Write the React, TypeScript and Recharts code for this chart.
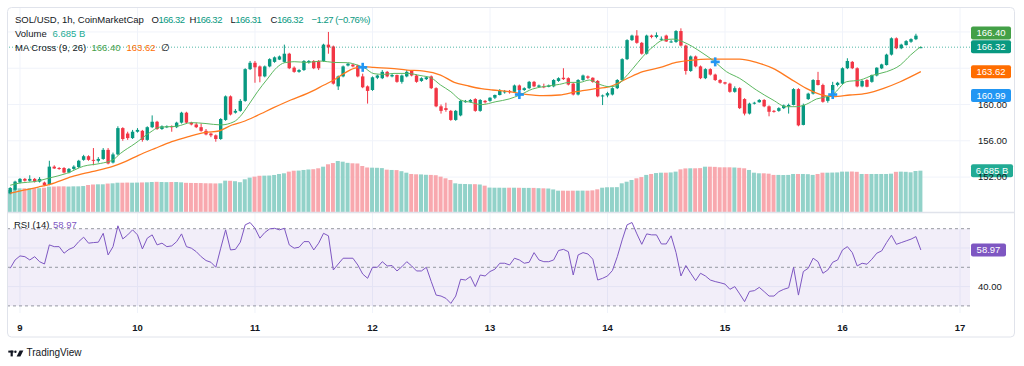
import React from 'react';
import {
  ComposedChart,
  Bar,
  Line,
  Scatter,
  XAxis,
  YAxis,
  CartesianGrid,
  ReferenceLine,
  ReferenceArea,
} from 'recharts';

// hours counted from the 9th, 00:00
const startHour = -2;
const dayTicks = [0, 24, 48, 72, 96, 120, 144, 168, 192];
const dayLabels = ['9', '10', '11', '12', '13', '14', '15', '16', '17'];
const priceTicks = [152, 156, 160];
const priceGrid = [152, 156, 160, 164, 168];
const rsiTicks = [40];
const rsiGrid = [40, 60];

// [open, high, low, close], one per hour from startHour
const ohlc: [number, number, number, number][] = [
  [150.2, 150.9, 150.1, 150.8], [150.6, 151.6, 150.5, 151.5],
  [151.4, 151.9, 151.3, 151.8], [151.8, 151.9, 151.5, 151.6], [151.6, 152.2, 151.5, 151.8], [151.8, 151.9, 151.4, 151.5], [151.5, 152.0, 151.4, 151.8],
  [151.4, 151.5, 151.0, 151.1], [151.2, 153.8, 151.1, 153.15], [153.15, 153.3, 152.9, 152.95], [153.0, 153.1, 152.8, 152.9], [153.0, 153.1, 152.4, 152.5],
  // 10
  [152.5, 153.0, 152.4, 152.9], [152.9, 153.3, 152.8, 153.15], [153.1, 153.9, 153.0, 153.8], [153.9, 154.45, 153.8, 154.3], [154.3, 154.4, 153.8, 153.9],
  [153.9, 155.2, 153.3, 153.8], [153.8, 154.2, 153.6, 154.0], [154.0, 155.2, 153.9, 155.0], [155.0, 155.2, 153.4, 153.5], [153.6, 154.7, 153.5, 154.5],
  // 20
  [154.5, 157.6, 154.4, 157.4], [157.4, 157.5, 156.0, 156.2], [156.8, 157.0, 156.1, 156.3], [156.3, 157.2, 156.2, 157.0], [157.0, 157.4, 156.9, 157.2],
  [157.1, 157.2, 155.9, 156.1], [156.1, 157.6, 156.0, 157.5], [157.5, 158.8, 157.4, 158.1], [158.1, 158.2, 157.2, 157.3], [157.3, 157.7, 157.2, 157.6],
  // 30
  [157.5, 157.7, 157.4, 157.6], [157.6, 157.7, 157.0, 157.5], [157.5, 158.1, 157.4, 158.0], [158.0, 159.2, 157.9, 159.1], [159.1, 159.2, 157.9, 158.0],
  [158.0, 158.1, 157.7, 157.8], [157.8, 158.0, 157.4, 157.5], [157.5, 157.9, 157.0, 157.1], [157.1, 157.3, 156.6, 156.7], [156.8, 156.9, 156.4, 156.6],
  // 40
  [156.6, 156.7, 155.9, 156.2], [156.2, 158.5, 156.1, 158.4], [158.3, 161.0, 158.2, 160.9], [160.9, 161.0, 158.8, 158.9], [159.1, 159.5, 159.0, 159.3],
  [159.3, 160.6, 159.2, 160.4], [160.4, 164.0, 160.3, 163.9], [163.9, 164.8, 163.8, 164.6], [164.6, 164.8, 162.4, 164.1], [164.2, 164.3, 162.45, 163.1],
  // 50
  [163.1, 164.3, 163.0, 164.2], [164.2, 165.1, 164.1, 165.0], [164.7, 165.3, 164.6, 165.2], [164.95, 165.4, 164.9, 165.3], [164.7, 166.6, 164.6, 165.6],
  [165.6, 165.7, 163.9, 164.0], [164.06, 164.2, 163.5, 163.6], [163.6, 163.9, 163.5, 163.8], [163.8, 164.9, 163.7, 164.8], [164.65, 164.9, 164.5, 164.8],
  // 60
  [164.8, 164.9, 163.9, 164.0], [164.8, 164.9, 163.8, 164.0], [164.8, 166.7, 164.7, 166.6], [166.6, 168.0, 165.6, 166.3], [166.4, 166.5, 162.2, 162.3],
  [162.0, 163.2, 161.6, 163.1], [163.1, 164.3, 163.0, 164.2], [164.3, 164.6, 164.2, 164.5], [164.4, 164.5, 164.1, 164.2], [164.3, 164.4, 163.0, 163.1],
  // 70
  [163.1, 163.4, 161.8, 161.9], [162.0, 162.1, 160.1, 161.5], [161.6, 163.1, 161.5, 163.0], [162.95, 163.3, 162.8, 163.2], [162.9, 163.8, 162.8, 163.6],
  [163.6, 163.7, 163.0, 163.1], [163.1, 163.4, 163.0, 163.25], [163.25, 163.3, 162.4, 162.5], [162.5, 163.3, 162.3, 163.2], [163.1, 163.8, 163.0, 163.6],
  // 80
  [163.7, 163.8, 163.1, 163.2], [163.2, 163.3, 162.4, 162.5], [162.6, 163.0, 162.5, 162.9], [162.8, 163.1, 162.7, 163.0], [163.1, 163.2, 161.7, 161.8],
  [161.8, 161.9, 159.7, 159.8], [159.8, 160.0, 159.0, 159.3], [159.6, 160.2, 159.2, 159.4], [159.3, 159.4, 158.2, 158.3], [158.3, 159.4, 158.2, 159.3],
  // 90
  [158.8, 160.5, 158.7, 160.4], [160.25, 160.5, 160.2, 160.4], [160.3, 160.6, 160.2, 160.5], [160.6, 160.7, 159.2, 159.3], [159.3, 160.6, 159.2, 160.5],
  [160.4, 160.5, 160.1, 160.25], [160.4, 160.8, 160.3, 160.75], [160.75, 161.1, 160.6, 161.05], [161.05, 161.7, 161.0, 161.5], [161.4, 161.6, 161.2, 161.45],
  // 100
  [161.5, 161.6, 161.2, 161.35], [161.4, 162.2, 161.3, 162.1], [162.1, 162.2, 161.5, 161.6], [161.6, 161.9, 161.5, 161.8], [161.8, 162.6, 161.7, 162.5],
  [162.5, 162.6, 161.9, 162.0], [161.95, 162.2, 161.9, 162.1], [162.0, 162.3, 161.8, 161.95], [161.95, 162.2, 161.9, 162.1], [162.0, 162.8, 161.9, 162.7],
  // 110
  [162.6, 163.0, 162.5, 162.9], [162.95, 164.0, 162.7, 162.8], [162.9, 163.0, 162.1, 162.2], [162.3, 162.4, 161.0, 161.1], [161.1, 162.8, 161.0, 162.7],
  [162.7, 163.3, 162.6, 163.2], [163.1, 163.2, 162.8, 162.95], [162.95, 163.0, 162.4, 162.5], [162.6, 162.7, 160.8, 160.9], [160.9, 161.1, 159.94, 161.0],
  // 120
  [161.0, 161.4, 160.8, 161.25], [161.1, 161.9, 161.0, 161.8], [161.8, 162.8, 161.7, 162.7], [162.7, 165.1, 162.6, 165.0], [165.0, 167.2, 164.9, 167.1],
  [167.1, 167.7, 167.0, 167.6], [167.6, 168.2, 166.7, 166.8], [166.8, 166.9, 165.5, 165.6], [165.6, 167.7, 165.5, 167.6], [167.6, 167.7, 167.3, 167.45],
  // 130
  [167.45, 167.95, 167.3, 167.65], [167.2, 167.5, 167.0, 167.25], [167.6, 167.7, 166.9, 166.95], [166.9, 167.1, 166.8, 166.95], [166.9, 168.2, 166.8, 168.1],
  [168.1, 168.4, 166.4, 166.5], [166.5, 166.6, 163.3, 163.7], [163.7, 165.4, 163.6, 165.3], [165.3, 165.4, 164.1, 164.2], [164.2, 164.3, 162.8, 162.9],
  // 140
  [162.9, 164.0, 162.8, 163.9], [163.9, 164.0, 163.2, 163.3], [163.3, 163.4, 162.6, 162.7], [162.7, 162.8, 162.3, 162.4], [162.45, 162.5, 162.2, 162.3],
  [162.3, 162.4, 161.3, 161.4], [161.4, 162.0, 161.3, 161.8], [161.8, 161.9, 159.5, 159.6], [160.6, 160.7, 158.8, 159.0], [159.0, 160.2, 158.9, 160.1],
  // 150
  [160.1, 160.3, 160.0, 160.2], [160.25, 160.6, 160.2, 160.5], [160.5, 160.6, 159.7, 159.8], [159.8, 159.9, 158.7, 159.2], [159.3, 159.4, 159.1, 159.25],
  [159.3, 159.7, 159.2, 159.6], [159.6, 160.0, 159.5, 159.9], [159.8, 160.1, 159.0, 159.95], [159.95, 161.8, 159.9, 161.7], [161.7, 161.8, 157.6, 157.7],
  // 160
  [157.75, 160.1, 157.7, 159.95], [160.6, 161.3, 160.5, 161.2], [161.2, 162.8, 161.1, 162.7], [162.7, 163.6, 162.1, 162.15], [162.15, 162.3, 160.2, 160.3],
  [160.4, 160.9, 160.2, 160.85], [160.9, 162.5, 160.8, 162.15], [162.15, 162.5, 162.0, 162.4], [162.3, 164.1, 162.2, 164.0], [164.0, 165.1, 163.9, 164.8],
  // 170
  [164.7, 164.8, 163.9, 164.0], [164.0, 164.1, 161.9, 162.0], [162.0, 162.7, 161.9, 162.6], [162.7, 162.8, 161.9, 161.96], [162.5, 163.3, 162.4, 163.25],
  [163.2, 164.1, 163.1, 164.06], [163.98, 164.5, 163.9, 164.42], [164.35, 165.6, 164.3, 165.5], [165.5, 167.4, 165.4, 167.3], [167.3, 167.4, 166.1, 166.2],
  // 180
  [166.2, 166.7, 166.1, 166.6], [166.55, 167.1, 166.5, 166.99], [166.92, 167.3, 166.8, 167.21], [167.2, 167.8, 167.1, 167.59], [166.32, 166.32, 166.31, 166.32],
];

// rolling 24h volume, billions USD
const volumeB = [
  3.56, 3.8,
  3.83, 3.83, 3.85, 3.85, 3.85, 3.93, 4.1, 4.12, 4.15, 4.15,
  4.12, 4.15, 4.15, 4.2, 4.37, 4.45, 4.48, 4.48, 4.6, 4.64,
  4.74, 4.74, 4.76, 4.74, 4.76, 4.78, 4.8, 4.85, 4.88, 4.85,
  4.83, 4.85, 4.85, 4.8, 4.72, 4.7, 4.69, 4.68, 4.65, 4.64,
  4.62, 4.64, 5.07, 5.05, 4.98, 4.82, 5.29, 5.56, 5.72, 5.86,
  5.88, 5.9, 5.99, 6.15, 6.26, 6.53, 6.68, 6.7, 6.8, 6.88,
  6.92, 7.07, 7.33, 7.72, 7.92, 8.25, 8.14, 7.95, 7.88, 7.85,
  7.44, 7.2, 7.17, 7.15, 7.1, 6.85, 6.8, 6.78, 6.6, 6.36,
  6.15, 6.1, 6.08, 6.02, 6.0, 5.95, 5.72, 5.45, 5.18, 4.64,
  4.55, 4.53, 4.5, 4.5, 4.45, 4.26, 3.95, 3.93, 3.93, 3.92,
  3.93, 3.93, 3.92, 3.9, 3.9, 3.9, 3.85, 3.83, 3.8, 3.65,
  3.45, 3.45, 3.44, 3.45, 3.45, 3.46, 3.45, 3.5, 3.67, 3.93,
  4.0, 4.0, 4.02, 4.64, 4.9, 5.18, 5.45, 5.65, 6.0, 6.15,
  6.3, 6.36, 6.36, 6.4, 6.53, 6.9, 7.05, 7.07, 7.07, 7.1,
  7.33, 7.33, 7.3, 7.23, 7.23, 7.23, 7.2, 7.15, 7.07, 6.8,
  6.36, 6.26, 6.26, 6.2, 6.0, 6.0, 5.98, 6.0, 6.15, 6.15,
  6.15, 6.12, 6.0, 6.15, 6.36, 6.36, 6.38, 6.4, 6.53, 6.53,
  6.55, 6.5, 6.15, 6.15, 6.15, 6.15, 6.15, 6.15, 6.2, 6.5,
  6.53, 6.5, 6.42, 6.63, 6.685,
];

const rsi14 = [
  49.5, 53.8,
  55.9, 55.5, 53.8, 55.5, 52.9, 51.7, 61.6, 60.7, 60.7, 57.3,
  59.3, 60.4, 63.3, 65.6, 62.5, 62.8, 63.0, 67.6, 56.4, 60.7,
  71.5, 64.7, 66.8, 69.4, 66.8, 59.5, 65.1, 66.8, 61.6, 62.5,
  60.7, 61.1, 63.3, 67.3, 60.7, 59.9, 58.1, 55.5, 53.5, 52.6,
  50.0, 59.9, 69.4, 59.0, 59.3, 63.0, 72.0, 73.2, 70.2, 65.1,
  68.0, 69.9, 70.2, 69.4, 70.2, 61.6, 59.9, 60.4, 63.3, 63.3,
  59.0, 62.5, 67.6, 66.3, 48.6, 51.7, 54.7, 54.7, 54.7, 51.2,
  46.5, 44.3, 50.0, 50.0, 52.9, 50.7, 50.9, 48.1, 50.3, 52.9,
  50.7, 48.1, 48.1, 50.0, 42.6, 35.6, 35.1, 33.9, 31.3, 35.1,
  43.8, 43.4, 45.2, 40.0, 46.0, 45.5, 47.8, 49.0, 52.1, 52.1,
  51.2, 54.7, 53.8, 52.1, 52.6, 57.6, 53.8, 52.9, 52.9, 53.8,
  58.7, 59.3, 58.1, 46.0, 56.4, 57.6, 56.9, 54.2, 43.4, 44.3,
  45.5, 48.3, 55.5, 64.2, 72.0, 73.2, 67.3, 61.9, 67.3, 66.8,
  66.8, 62.1, 62.1, 66.3, 57.6, 45.5, 50.9, 46.9, 43.1, 46.9,
  45.5, 43.4, 42.6, 42.0, 41.3, 38.6, 40.0, 36.2, 32.2, 37.5,
  37.9, 39.6, 37.4, 35.1, 35.1, 37.4, 38.6, 39.4, 50.0, 35.6,
  47.8, 49.5, 54.7, 52.9, 46.9, 48.6, 52.6, 53.8, 59.0, 60.7,
  57.6, 50.7, 52.1, 51.6, 54.2, 57.3, 58.5, 62.8, 66.6, 61.9,
  62.8, 63.7, 64.6, 65.9, 58.97,
];

// moving averages: [hour, value]
const ma9Points: [number, number][] = [
  [-2, 151.1], [0, 151.35], [3, 151.5], [6, 151.9], [9.5, 152.4], [13, 153.2], [16.4, 153.5], [19, 153.9],
  [20.5, 154.6], [23.5, 155.7], [26.5, 156.9], [28.5, 157.5], [32, 157.6], [35, 158.0], [38, 157.9], [41, 157.75],
  [43.7, 158.1], [45, 158.7], [46.5, 159.8], [48.5, 161.4], [50.5, 162.8], [52.5, 164.1], [54, 164.6], [56, 164.72],
  [58.7, 164.64], [61.4, 164.79], [64.1, 164.64], [66.9, 164.61], [68.9, 164.35], [70.3, 164.06], [72.3, 163.4],
  [74.4, 163.32], [76.4, 163.43], [79.1, 163.43], [81.9, 163.18], [83.9, 162.96], [85.9, 162.15], [88, 161.41],
  [90, 160.5], [92.1, 160.24], [94.2, 159.98], [97.2, 160.31], [99.9, 160.61], [102.1, 161.05], [104.7, 161.71],
  [106.8, 161.96], [110.2, 162.22], [112.2, 162.44], [114.3, 162.44], [116.3, 162.7], [118.4, 162.22], [120.4, 161.96],
  [121.8, 162.07], [123.1, 162.7], [125.2, 163.98], [127.2, 165.27], [129.3, 166.37], [131.3, 167.1], [133.4, 167.21],
  [135.4, 166.92], [137.4, 166.37], [139.5, 165.64], [141.6, 164.85], [144.3, 163.62], [147, 162.88], [150.4, 161.6],
  [153.8, 160.5], [156.5, 159.76], [158.6, 159.76], [160.6, 160.02], [162.7, 160.61], [164.7, 160.86], [166.1, 161.15],
  [168.8, 162.51], [171.6, 162.7], [174.3, 163.25], [177, 163.62], [179.8, 164.35], [181.9, 165.45], [184, 166.4],
];

const ma26Points: [number, number][] = [
  [-2, 150.22], [1, 150.58], [3.75, 150.9], [6.1, 151.2], [10.6, 152.05], [14.7, 152.6], [18.8, 153.15], [21.5, 153.7],
  [24.2, 154.4], [27.6, 155.17], [31, 155.9], [34.4, 156.46], [37.9, 156.93], [40.6, 157.08], [43.3, 157.74], [45.5, 158.1],
  [48.4, 158.77], [51.8, 159.65], [55.3, 160.5], [58.7, 161.23], [62.1, 162.15], [64.1, 162.7], [66.2, 163.43], [68.2, 163.98],
  [70.3, 164.17], [72.3, 164.09], [75.7, 163.98], [79.1, 163.8], [82.5, 163.69], [85.9, 163.25], [88.7, 162.44], [91.4, 162.07],
  [94.2, 161.75], [96.5, 161.6], [99.9, 161.41], [103.3, 161.12], [106.8, 160.97], [110.2, 161.05], [113.6, 161.41], [117, 161.7],
  [120.4, 161.96], [123.8, 162.81], [127.2, 163.62], [130.6, 164.06], [134, 164.64], [137.4, 164.9], [140.5, 165.0], [143.6, 165.01],
  [147, 165.01], [150.4, 164.64], [153.8, 163.98], [157.2, 162.88], [160.6, 161.78], [163.4, 161.12], [166.1, 160.86], [169.5, 161.05],
  [172.9, 161.23], [176.4, 161.78], [179.8, 162.51], [184, 163.62],
];

const crossPoints: [number, number][] = [[70, 164.1], [102, 161.1], [142, 164.7], [166, 161.1]];

const lastClose = 166.32;
const ma9Last = 166.4;
const ma26Last = 163.62;
const alertPrice = 160.99;
const lastVolume = 6.685;
const lastRsi = 58.97;

const H_DOMAIN: [number, number] = [-2.45, 194.04];
const PRICE_DOMAIN: [number, number] = [148.15, 170.64];
const VOL_DOMAIN: [number, number] = [0, 33];
const RSI_DOMAIN: [number, number] = [26.32, 78.13];

const UP = '#089981';
const DOWN = '#f23645';
const VOL_UP = '#92d2c9';
const VOL_DOWN = '#f8a8ae';
const GRID = '#f0f3fa';
const TEXT = '#131722';
const FONT = '"Liberation Sans", Arial, sans-serif';

const rows = ohlc.map(([o, hi, lo, c], i) => ({
  h: startHour + i,
  o,
  hi,
  lo,
  c,
  range: [lo, hi],
  vol: volumeB[i],
  up: c >= o,
}));
const rsiRows = rsi14.map((v, i) => ({ h: startHour + i, rsi: v }));
const ma9Rows = ma9Points.map(([h, v]) => ({ h, v }));
const ma26Rows = ma26Points.map(([h, v]) => ({ h, v }));
const crossRows = crossPoints.map(([h, p]) => ({ h, p }));

const Candle = (props: any) => {
  const { x, y, width, height, payload } = props;
  const color = payload.up ? UP : DOWN;
  const span = payload.hi - payload.lo;
  const k = span > 0 ? height / span : 0;
  const yO = y + (payload.hi - payload.o) * k;
  const yC = y + (payload.hi - payload.c) * k;
  const top = Math.min(yO, yC);
  const bh = Math.max(Math.abs(yO - yC), 1);
  const cx = x + width / 2;
  return (
    <g>
      <line x1={cx} x2={cx} y1={y} y2={y + Math.max(height, 1)} stroke={color} strokeWidth={1} />
      <rect x={cx - 1.7} y={top} width={3.4} height={bh} fill={color} />
    </g>
  );
};

const VolumeBar = (props: any) => {
  const { x, y, width, height, payload } = props;
  return <rect x={x} y={y} width={width} height={height} fill={payload.up ? VOL_UP : VOL_DOWN} />;
};

const CrossMark = (props: any) => {
  const { cx, cy } = props;
  return (
    <g fill="#2196f3">
      <rect x={cx - 4.5} y={cy - 1.3} width={9} height={2.6} />
      <rect x={cx - 1.3} y={cy - 4.5} width={2.6} height={9} />
    </g>
  );
};

const Tag = ({ viewBox, text, bg, shift = 0, w = 40 }: any) => {
  if (!viewBox) return null;
  const cy = viewBox.y + shift;
  return (
    <g>
      <rect x={971} y={cy - 6.5} width={w} height={13} rx={2} fill={bg} />
      <text x={971 + w / 2} y={cy} dy="0.35em" textAnchor="middle" fill="#ffffff" fontSize={9.5} fontFamily={FONT}>
        {text}
      </text>
    </g>
  );
};

const PriceTick = (props: any) => {
  const { y, payload } = props;
  return (
    <text x={978} y={y} dy="0.35em" fontSize={9.5} fill={TEXT} fontFamily={FONT}>
      {payload.value.toFixed(2)}
    </text>
  );
};

const DayTick = (props: any) => {
  const { x, payload } = props;
  const idx = dayTicks.indexOf(payload.value);
  return (
    <text x={x} y={117.5} textAnchor="middle" fontSize={9.5} fontWeight={600} fill={TEXT} fontFamily={FONT}>
      {dayLabels[idx]}
    </text>
  );
};

function MainPane() {
  return (
    <ComposedChart width={1024} height={204} data={rows} margin={{ top: 0, right: 8, bottom: 0, left: 8 }}>
      <XAxis xAxisId="px" type="number" dataKey="h" domain={H_DOMAIN} allowDataOverflow hide ticks={dayTicks} />
      <XAxis xAxisId="vx" type="number" dataKey="h" domain={H_DOMAIN} allowDataOverflow hide />
      <YAxis
        yAxisId="price"
        orientation="right"
        domain={PRICE_DOMAIN}
        allowDataOverflow
        ticks={priceTicks}
        width={46}
        tickLine={false}
        axisLine={false}
        tick={PriceTick}
      />
      <YAxis yAxisId="vol" domain={VOL_DOMAIN} allowDataOverflow hide />
      <CartesianGrid
        xAxisId="px"
        yAxisId="price"
        stroke={GRID}
        horizontalValues={priceGrid}
        verticalValues={dayTicks}
      />
      <Bar xAxisId="vx" yAxisId="vol" dataKey="vol" barSize={4} shape={VolumeBar} isAnimationActive={false} />
      <Bar xAxisId="px" yAxisId="price" dataKey="range" barSize={4} shape={Candle} isAnimationActive={false} />
      <ReferenceLine xAxisId="px" yAxisId="price" y={lastClose} stroke={UP} strokeOpacity={0.7} strokeDasharray="1 2" />
      <Line
        xAxisId="px"
        yAxisId="price"
        data={ma26Rows}
        dataKey="v"
        type="monotone"
        stroke="#ff7a1f"
        strokeWidth={1.3}
        dot={false}
        isAnimationActive={false}
      />
      <Line
        xAxisId="px"
        yAxisId="price"
        data={ma9Rows}
        dataKey="v"
        type="monotone"
        stroke="#5cb860"
        strokeWidth={1}
        dot={false}
        isAnimationActive={false}
      />
      <Scatter xAxisId="px" yAxisId="price" data={crossRows} dataKey="p" shape={CrossMark} isAnimationActive={false} />
      <ReferenceLine
        xAxisId="px"
        yAxisId="price"
        y={ma9Last}
        stroke="none"
        label={(p: any) => <Tag viewBox={p.viewBox} text="166.40" bg="#43a047" shift={-13.5} />}
      />
      <ReferenceLine
        xAxisId="px"
        yAxisId="price"
        y={lastClose}
        stroke="none"
        label={(p: any) => <Tag viewBox={p.viewBox} text="166.32" bg={UP} shift={-0.5} />}
      />
      <ReferenceLine
        xAxisId="px"
        yAxisId="price"
        y={ma26Last}
        stroke="none"
        label={(p: any) => <Tag viewBox={p.viewBox} text="163.62" bg="#ff6d00" />}
      />
      <ReferenceLine
        xAxisId="px"
        yAxisId="price"
        y={alertPrice}
        stroke="none"
        label={(p: any) => <Tag viewBox={p.viewBox} text="160.99" bg="#2196f3" />}
      />
      <ReferenceLine
        xAxisId="vx"
        yAxisId="vol"
        y={lastVolume}
        stroke="none"
        label={(p: any) => <Tag viewBox={p.viewBox} text="6.685 B" bg="#22ab94" w={42} />}
      />
    </ComposedChart>
  );
}

function RsiPane() {
  return (
    <ComposedChart width={1024} height={124} data={rsiRows} margin={{ top: 0, right: 8, bottom: 0, left: 8 }}>
      <XAxis
        xAxisId="rx"
        type="number"
        dataKey="h"
        domain={H_DOMAIN}
        allowDataOverflow
        ticks={dayTicks}
        height={24}
        tickLine={false}
        axisLine={false}
        tick={DayTick}
      />
      <YAxis
        yAxisId="ry"
        orientation="right"
        domain={RSI_DOMAIN}
        allowDataOverflow
        ticks={rsiTicks}
        width={46}
        tickLine={false}
        axisLine={false}
        tick={PriceTick}
      />
      <CartesianGrid xAxisId="rx" yAxisId="ry" stroke={GRID} horizontalValues={rsiGrid} verticalValues={dayTicks} />
      <ReferenceArea xAxisId="rx" yAxisId="ry" y1={30} y2={70} fill="#7e57c2" fillOpacity={0.1} stroke="none" />
      <ReferenceLine xAxisId="rx" yAxisId="ry" y={70} stroke="#9598a1" strokeDasharray="3 3" />
      <ReferenceLine xAxisId="rx" yAxisId="ry" y={50} stroke="#9598a1" strokeDasharray="3 3" />
      <ReferenceLine xAxisId="rx" yAxisId="ry" y={30} stroke="#9598a1" strokeDasharray="3 3" />
      <Line
        xAxisId="rx"
        yAxisId="ry"
        dataKey="rsi"
        type="linear"
        stroke="#7e57c2"
        strokeWidth={1}
        dot={false}
        isAnimationActive={false}
      />
      <ReferenceLine
        xAxisId="rx"
        yAxisId="ry"
        y={lastRsi}
        stroke="none"
        label={(p: any) => <Tag viewBox={p.viewBox} text="58.97" bg="#7e57c2" w={35} />}
      />
    </ComposedChart>
  );
}

export default function App() {
  return (
    <div
      style={{
        position: 'absolute',
        left: 0,
        top: 0,
        width: 1024,
        height: 366,
        background: '#ffffff',
        fontFamily: FONT,
        overflow: 'hidden',
      }}
    >
      <div style={{ position: 'absolute', left: 0, top: 8 }}>
        <MainPane />
      </div>
      <div style={{ position: 'absolute', left: 0, top: 213 }}>
        <RsiPane />
      </div>
      <svg
        width={1024}
        height={366}
        style={{ position: 'absolute', left: 0, top: 0, pointerEvents: 'none' }}
        fontFamily={FONT}
        fontSize={9.5}
      >
        <rect x={7.5} y={7.5} width={1007} height={329.5} rx={4} fill="none" stroke="#e0e3eb" />
        <line x1={7.5} x2={1014.5} y1={212.5} y2={212.5} stroke="#e0e3eb" strokeWidth={1.5} />

        <text x={15} y={23} fill={TEXT}>SOL/USD, 1h, CoinMarketCap</text>
        <g letterSpacing={-0.5}>
          <text x={151.5} y={23} fill={TEXT}>O<tspan fill={UP}>166.32</tspan></text>
          <text x={189.5} y={23} fill={TEXT}>H<tspan fill={UP}>166.32</tspan></text>
          <text x={230.5} y={23} fill={TEXT}>L<tspan fill={UP}>166.31</tspan></text>
          <text x={270.5} y={23} fill={TEXT}>C<tspan fill={UP}>166.32</tspan></text>
          <text x={311.5} y={23} fill={UP}>−1.27 (−0.76%)</text>
        </g>

        <text x={15} y={36.8} fill={TEXT}>Volume</text>
        <text x={52.5} y={36.8} fill="#22ab94">6.685 B</text>

        <text x={15} y={50.5} fill={TEXT}>MA Cross (9, 26)</text>
        <text x={91.5} y={50.5} fill="#43a047">166.40</text>
        <text x={126.5} y={50.5} fill="#ff6d00">163.62</text>
        <text x={161} y={50.5} fill={TEXT}>∅</text>

        <text x={14} y={227.5} fill={TEXT}>RSI (14)</text>
        <text x={53} y={227.5} fill="#7e57c2">58.97</text>

        <g fill={TEXT}>
          <rect x={8.3} y={350.6} width={5.2} height={2} />
          <rect x={10.6} y={350.6} width={2.2} height={5.8} />
          <circle cx={15.4} cy={351.7} r={1.2} />
          <path d="M16.6 356.4 L19.6 350.6 L23.4 350.6 L20.4 356.4 Z" />
        </g>
        <text x={26.5} y={356.4} fill={TEXT} fontSize={10}>TradingView</text>
      </svg>
    </div>
  );
}
